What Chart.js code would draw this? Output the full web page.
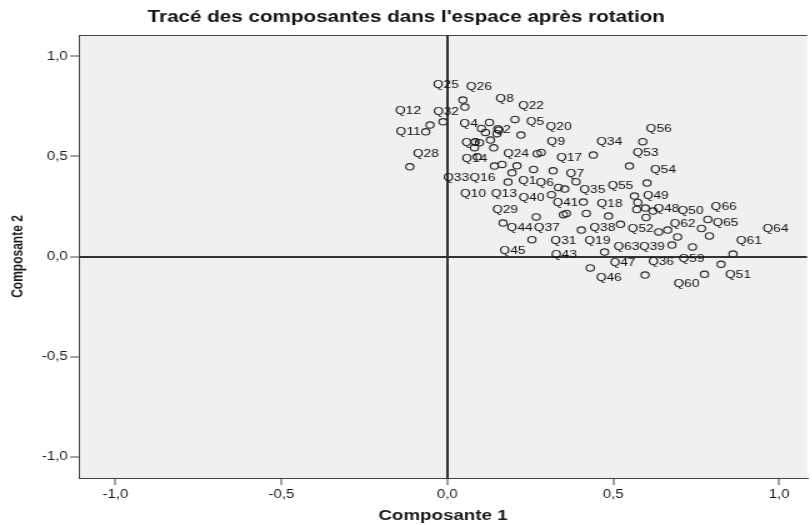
<!DOCTYPE html>
<html lang="fr">
<head>
<meta charset="utf-8">
<title>Tracé des composantes</title>
<script src="https://cdn.jsdelivr.net/npm/chart.js@4.4.1/dist/chart.umd.min.js"></script>
<style>
  html, body { margin: 0; padding: 0; background: #fff; overflow: hidden; }
  #chart { transform: scaleX(1.25); transform-origin: 0 0; }
</style>
</head>
<body>
<canvas id="chart" width="650" height="525"></canvas>
<script>
const items = [
  'Q1','Q2','Q3','Q4','Q5','Q6','Q7','Q8','Q9','Q10',
  'Q11','Q12','Q13','Q14','Q15','Q16','Q17','Q18','Q19','Q20',
  'Q21','Q22','Q23','Q24','Q25','Q26','Q27','Q28','Q29','Q30',
  'Q31','Q32','Q33','Q34','Q35','Q36','Q37','Q38','Q39','Q40',
  'Q41','Q42','Q43','Q44','Q45','Q46','Q47','Q48','Q49','Q50',
  'Q51','Q52','Q53','Q54','Q55','Q56','Q57','Q58','Q59','Q60',
  'Q61','Q62','Q63','Q64','Q65','Q66',
];
const comp1 = [
  0.210, 0.130, 0.084, 0.103, 0.222, 0.260, 0.354, 0.127, 0.283, 0.195,
  -0.065, -0.013, 0.183, 0.082, 0.115, 0.142, 0.319, 0.486, 0.404, 0.271,
  0.156, 0.204, 0.150, 0.165, 0.053, 0.047, 0.097, -0.113, 0.168, 0.140,
  0.359, -0.052, 0.090, 0.440, 0.410, 0.596, 0.255, 0.419, 0.677, 0.314,
  0.350, 0.574, 0.335, 0.268, 0.388, 0.431, 0.474, 0.597, 0.571, 0.766,
  0.825, 0.637, 0.549, 0.602, 0.564, 0.589, 0.620, 0.599, 0.739, 0.775,
  0.861, 0.664, 0.522, 0.694, 0.790, 0.785,
];
const comp2 = [
  0.453, 0.582, 0.572, 0.640, 0.607, 0.435, 0.337, 0.670, 0.520, 0.418,
  0.623, 0.673, 0.372, 0.544, 0.620, 0.452, 0.428, 0.202, 0.132, 0.514,
  0.632, 0.685, 0.614, 0.460, 0.747, 0.782, 0.569, 0.448, 0.167, 0.543,
  0.215, 0.657, 0.498, 0.507, 0.272, -0.093, 0.084, 0.215, 0.057, 0.309,
  0.209, 0.270, 0.345, 0.198, 0.374, -0.057, 0.022, 0.242, 0.235, 0.140,
  -0.039, 0.123, 0.452, 0.367, 0.302, 0.574, 0.227, 0.195, 0.048, -0.089,
  0.012, 0.132, 0.161, 0.098, 0.103, 0.185,
];
const xTicks = [-1.0, -0.5, 0.0, 0.5, 1.0];
const yTicks = [-1.0, -0.5, 0.0, 0.5, 1.0];

// étiquettes masquées par SPSS (chevauchement)
const hiddenLabels = ['Q15', 'Q21', 'Q23', 'Q27', 'Q30', 'Q42', 'Q57', 'Q58'];

// ── Placement des étiquettes (px, bord gauche / milieu du texte) ──
const STRETCH = 1.25;          // l'image d'origine est étirée en largeur
const DEFAULT_SHIFT = [3, -13];
const labelShift = {
  Q1: [1, 15], Q2: [2, -10], Q3: [-14, 1], Q4: [-22, -4], Q5: [5, -13],
  Q6: [2, 14], Q7: [1, -15], Q8: [6, -23], Q9: [5.5, -10], Q10: [-52, 21.6],
  Q11: [-30, 0], Q12: [-48, -11], Q13: [-17, 12], Q14: [-13, 11.5],
  Q16: [-25, 11.5], Q18: [-12, -12], Q19: [3, 11], Q20: [8.5, -27],
  Q24: [1, -10], Q25: [-32, -22], Q29: [-11, -13], Q31: [-16, 27],
  Q33: [-34, 21], Q35: [-4, -12], Q37: [2, -11.5], Q38: [3, 14],
  Q39: [-33, 2], Q40: [-33, 3], Q41: [-11, -12], Q43: [-7.5, 67],
  Q44: [-29.5, 11.5], Q45: [-76.5, 69], Q46: [5.5, 10], Q47: [5, 10.5],
  Q48: [8, 1], Q49: [6, -14], Q50: [-24, -18], Q51: [4, 11], Q52: [-31, -3],
  Q55: [-27, -10], Q59: [-14, 12.5], Q60: [-31, 10], Q62: [2, -6],
  Q63: [-7, 22.5], Q64: [85, -8],
};

// ── Config globale ──────────────────────────────────────────
Chart.defaults.font.family = "'Liberation Sans', Arial, sans-serif";
Chart.defaults.color = '#1a1a1a';

function fmtComma(v) {
  return v.toFixed(1).replace('.', ',');
}

// fond gris + cadre de la zone de tracé
const plotFrame = {
  id: 'plotFrame',
  beforeDraw(chart) {
    const { ctx, chartArea: a } = chart;
    ctx.save();
    ctx.fillStyle = '#f0f0f0';
    ctx.fillRect(a.left, a.top, a.right - a.left, a.bottom - a.top);
    ctx.strokeStyle = '#444';
    ctx.lineWidth = 1;
    ctx.beginPath();
    ctx.moveTo(a.right, a.top + 0.5);
    ctx.lineTo(a.left, a.top + 0.5);
    ctx.stroke();
    ctx.restore();
  },
};

// noms des items à côté des points
const pointLabels = {
  id: 'pointLabels',
  afterDatasetsDraw(chart) {
    const { ctx } = chart;
    const meta = chart.getDatasetMeta(0);
    ctx.save();
    ctx.font = "11px 'Liberation Sans', Arial, sans-serif";
    ctx.fillStyle = '#111';
    ctx.textAlign = 'left';
    ctx.textBaseline = 'middle';
    meta.data.forEach((pt, i) => {
      const name = items[i];
      if (hiddenLabels.includes(name)) return;
      const [dx, dy] = labelShift[name] || DEFAULT_SHIFT;
      ctx.fillText(name, pt.x + dx / STRETCH, pt.y + dy);
    });
    ctx.restore();
  },
};

const zeroGrid = {
  drawOnChartArea: true,
  color: (c) => (c.tick && c.tick.value === 0 ? '#333' : 'rgba(0,0,0,0)'),
  lineWidth: 2,
  tickColor: '#444',
  tickWidth: 1,
  tickLength: 7,
};

new Chart(document.getElementById('chart'), {
  type: 'scatter',
  data: {
    datasets: [{
      data: items.map((_, i) => ({ x: comp1[i], y: comp2[i] })),
      pointStyle: 'circle',
      pointRadius: 3.2,
      pointHoverRadius: 3.2,
      borderWidth: 1.1,
      borderColor: '#2a2a2a',
      backgroundColor: 'rgba(0,0,0,0)',
    }],
  },
  options: {
    responsive: false,
    devicePixelRatio: 1,
    animation: false,
    layout: { padding: 0 },
    plugins: {
      legend: { display: false },
      tooltip: { enabled: false },
      title: {
        display: true,
        text: "Tracé des composantes dans l'espace après rotation",
        font: { size: 16.5, weight: 'bold' },
        color: '#111',
        padding: { top: 7.1, bottom: 8.1 },
      },
    },
    scales: {
      x: {
        type: 'linear',
        min: -1.11,
        max: 1.0845,
        afterBuildTicks: (s) => { s.ticks = xTicks.map((v) => ({ value: v })); },
        afterFit: (s) => { s.height = 47; },
        ticks: { callback: fmtComma, font: { size: 12 }, padding: 2, maxRotation: 0 },
        grid: zeroGrid,
        border: { display: true, color: '#444', width: 1 },
        title: {
          display: true,
          text: 'Composante 1',
          font: { size: 15, weight: 'bold' },
          padding: { top: 0, bottom: 0 },
        },
      },
      y: {
        type: 'linear',
        min: -1.107,
        max: 1.107,
        afterBuildTicks: (s) => { s.ticks = yTicks.map((v) => ({ value: v })); },
        afterFit: (s) => { s.width = 63.2; },
        ticks: { callback: fmtComma, font: { size: 12 }, padding: 2 },
        grid: zeroGrid,
        border: { display: true, color: '#444', width: 1 },
        title: {
          display: true,
          text: 'Composante 2',
          font: { size: 12, weight: 'bold' },
          padding: { top: 7, bottom: 0 },
        },
      },
    },
  },
  plugins: [plotFrame, pointLabels],
});
</script>
</body>
</html>
